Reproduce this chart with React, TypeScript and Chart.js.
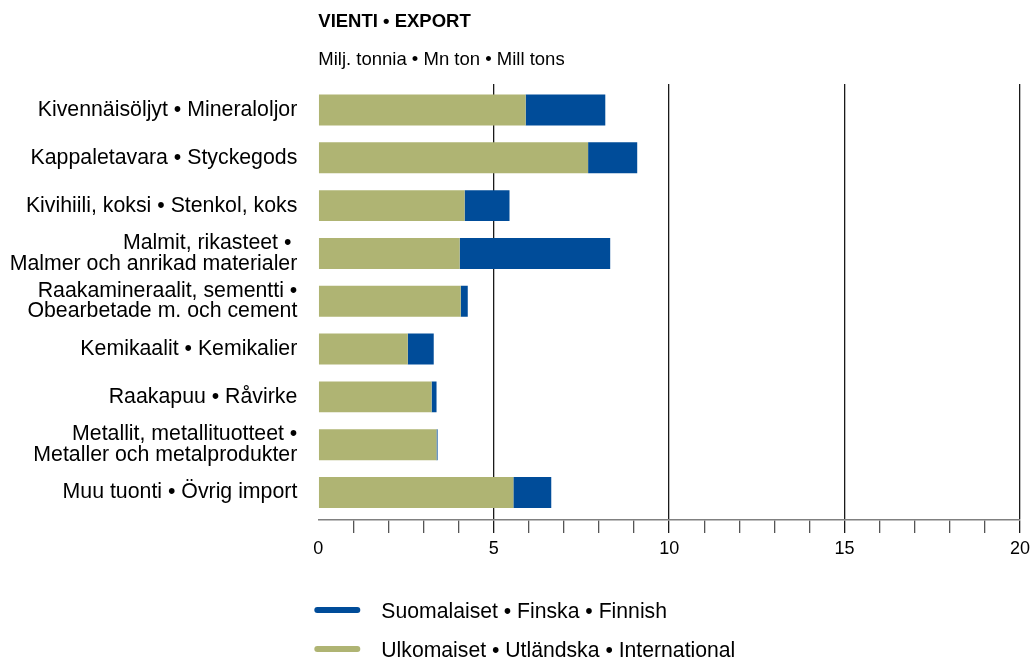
import React, { useEffect, useRef } from 'react';
import { Chart, registerables } from 'chart.js';

Chart.register(...registerables);

const TITLE = 'VIENTI • EXPORT';
const SUBTITLE = 'Milj. tonnia • Mn ton • Mill tons';

const categories: (string | string[])[] = [
  'Kivennäisöljyt • Mineraloljor',
  'Kappaletavara • Styckegods',
  'Kivihiili, koksi • Stenkol, koks',
  ['Malmit, rikasteet • ', 'Malmer och anrikad materialer'],
  ['Raakamineraalit, sementti •', 'Obearbetade m. och cement'],
  'Kemikaalit • Kemikalier',
  'Raakapuu • Råvirke',
  ['Metallit, metallituotteet •', 'Metaller och metalprodukter'],
  'Muu tuonti • Övrig import',
];

const international = [5.91, 7.69, 4.17, 4.03, 4.06, 2.55, 3.23, 3.37, 5.56];
const finnish = [2.27, 1.4, 1.28, 4.29, 0.2, 0.74, 0.14, 0.03, 1.08];

const seriesFinnish = 'Suomalaiset • Finska • Finnish';
const seriesInternational = 'Ulkomaiset • Utländska • International';

const xMin = 0;
const xMax = 20;
const xStep = 1;
const xLabelEvery = 5;

const BLUE = '#004c99';
const GREEN = '#afb473';
const FONT = '"Liberation Sans", Arial, Helvetica, sans-serif';

// inset of the category band inside the plot area (top, bottom), px
const BAND_INSET_TOP = 2.1;
const BAND_INSET_BOTTOM = 3.6;

const bandPlugin = {
  id: 'band',
  afterLayout(chart: any) {
    const y = chart.scales.y;
    if (!y) return;
    y._startPixel = y.top + BAND_INSET_TOP;
    y._endPixel = y.bottom - BAND_INSET_BOTTOM;
    y._length = y._endPixel - y._startPixel;
  },
};

const decorPlugin = {
  id: 'decor',
  afterDraw(chart: any) {
    const { ctx, chartArea } = chart;
    ctx.save();
    ctx.fillStyle = '#000';
    ctx.textAlign = 'left';
    ctx.textBaseline = 'alphabetic';
    ctx.font = `bold 18.5px ${FONT}`;
    ctx.fillText(TITLE, chartArea.left, 27);
    ctx.font = `18.5px ${FONT}`;
    ctx.fillText(SUBTITLE, chartArea.left, 65);

    const items = [
      { label: seriesFinnish, color: BLUE },
      { label: seriesInternational, color: GREEN },
    ];
    items.forEach((it, i) => {
      const y = chartArea.bottom + 90 + i * 39;
      ctx.strokeStyle = it.color;
      ctx.lineWidth = 6;
      ctx.lineCap = 'round';
      ctx.beginPath();
      ctx.moveTo(chartArea.left - 1, y);
      ctx.lineTo(chartArea.left + 39, y);
      ctx.stroke();
      ctx.font = `21.2px ${FONT}`;
      ctx.fillStyle = '#000';
      ctx.textBaseline = 'alphabetic';
      ctx.fillText(it.label, chartArea.left + 63, y + 7.5);
    });
    ctx.restore();
  },
};

export default function App() {
  const ref = useRef<HTMLCanvasElement | null>(null);

  useEffect(() => {
    if (!ref.current) return;
    const chart = new Chart(ref.current, {
      type: 'bar',
      data: {
        labels: categories,
        datasets: [
          {
            label: seriesInternational,
            data: international,
            backgroundColor: GREEN,
            borderWidth: 0,
            barPercentage: 0.648,
            categoryPercentage: 1,
          },
          {
            label: seriesFinnish,
            data: finnish,
            backgroundColor: BLUE,
            borderWidth: 0,
            barPercentage: 0.648,
            categoryPercentage: 1,
          },
        ],
      },
      options: {
        indexAxis: 'y',
        responsive: false,
        animation: false,
        layout: { padding: { top: 84, bottom: 100, left: 0, right: 13.3 } },
        plugins: {
          legend: { display: false },
          tooltip: { enabled: false },
          title: { display: false },
        },
        scales: {
          x: {
            type: 'linear',
            stacked: true,
            min: xMin,
            max: xMax,
            z: 1,
            afterFit: (scale: any) => {
              scale.height = 40;
            },
            border: { display: true, color: '#808080', width: 1.5 },
            grid: {
              drawOnChartArea: true,
              drawTicks: true,
              tickLength: 13,
              lineWidth: 1.3,
              color: (c: any) =>
                c.tick && c.tick.value !== 0 && c.tick.value % xLabelEvery === 0 ? '#1a1a1a' : 'rgba(0,0,0,0)',
              tickColor: (c: any) =>
                c.tick && c.tick.value === 0
                  ? 'rgba(0,0,0,0)'
                  : c.tick && c.tick.value % xLabelEvery === 0
                  ? '#1a1a1a'
                  : '#555',
            },
            ticks: {
              stepSize: xStep,
              autoSkip: false,
              maxRotation: 0,
              padding: 5,
              color: '#000',
              font: { family: FONT, size: 18 },
              callback: (v: any) => (Number(v) % xLabelEvery === 0 ? String(v) : ''),
            },
          },
          y: {
            stacked: true,
            afterFit: (scale: any) => {
              scale.width = 318.3;
            },
            border: { display: false },
            grid: { display: false, drawTicks: false },
            ticks: {
              padding: 21,
              color: '#000',
              font: { family: FONT, size: 21.3, lineHeight: 0.97 },
            },
          },
        },
      },
      plugins: [bandPlugin, decorPlugin],
    });
    return () => chart.destroy();
  }, []);

  return (
    <div style={{ position: 'fixed', left: 0, top: 0, width: 1035, height: 660, background: '#fff' }}>
      <canvas ref={ref} width={1035} height={660} style={{ display: 'block' }} />
    </div>
  );
}
